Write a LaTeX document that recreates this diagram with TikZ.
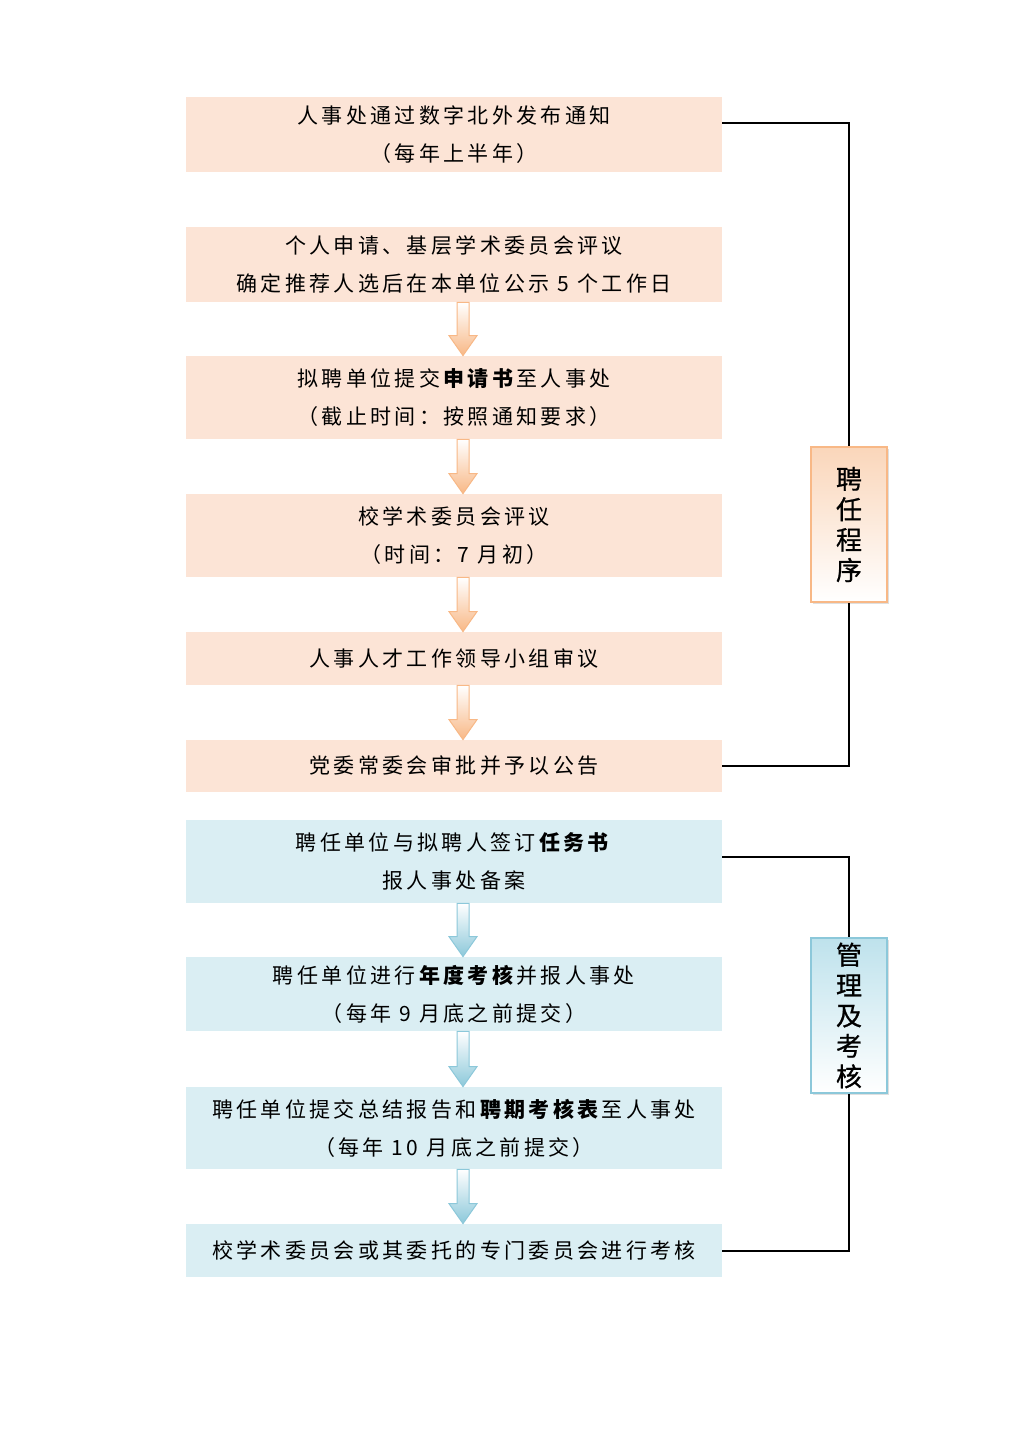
\documentclass[tikz,border=0pt]{standalone}
\usepackage{fontspec}
\setmainfont{Noto Sans CJK SC}
\newfontfamily\boxfont[LetterSpace=16]{Noto Sans CJK SC}
\newfontfamily\labfont[FakeBold=0.8]{Noto Sans CJK SC}
\usetikzlibrary{calc,shadows}
\definecolor{peach}{RGB}{252,228,214}
\definecolor{lblue}{RGB}{218,238,243}
\definecolor{arrO}{RGB}{248,184,134}
\definecolor{arrB}{RGB}{140,200,218}
\definecolor{labO}{RGB}{250,214,186}
\definecolor{labB}{RGB}{190,226,236}
\tikzset{
  box/.style={minimum width=268pt, inner sep=0pt, align=center,
    font=\boxfont\fontsize{10.5}{19}\selectfont},
  obox/.style={box, fill=peach},
  bbox/.style={box, fill=lblue},
  lab/.style={minimum width=38pt, minimum height=77.5pt, inner sep=0pt, align=center,
    line width=0.8pt, font=\labfont\fontsize{13}{15.2}\selectfont,
    drop shadow={opacity=0.25, shadow xshift=1.2pt, shadow yshift=-1.2pt}},
  bracket/.style={draw=black, line width=1pt}
}
\newcommand\flowarrow[3]{%
  \shadedraw[top color=white, bottom color=#3, draw=#3, line width=0.5pt]
    let \p1=($(#1.south)+(4.5pt,0)$), \p2=($(#2.north)+(4.5pt,0)$) in
    (\x1-3pt,\y1) -- (\x1+3pt,\y1) -- (\x1+3pt,\y2+10pt) -- (\x1+7pt,\y2+10pt)
    -- (\x1,\y2) -- (\x1-7pt,\y2+10pt) -- (\x1-3pt,\y2+10pt) -- cycle;}
\begin{document}
\begin{tikzpicture}[x=0.5pt,y=-0.5pt]
\useasboundingbox (0,0) rectangle (1024,1448);
\fill[white] (0,0) rectangle (1024,1448);
% orange stage
\node[obox, minimum height=37.5pt] (b1) at (454,134.5) {人事处通过数字北外发布通知\\（每年上半年）};
\node[obox, minimum height=37.5pt] (b2) at (454,264.5) {个人申请、基层学术委员会评议\\确定推荐人选后在本单位公示 5 个工作日};
\node[obox, minimum height=41.5pt] (b3) at (454,397.5) {拟聘单位提交\textbf{申请书}至人事处\\（截止时间：按照通知要求）};
\node[obox, minimum height=41.5pt] (b4) at (454,535.5) {校学术委员会评议\\（时间：7 月初）};
\node[obox, minimum height=26.5pt] (b5) at (454,658.5) {人事人才工作领导小组审议};
\node[obox, minimum height=26pt] (b6) at (454,766) {党委常委会审批并予以公告};
% blue stage
\node[bbox, minimum height=41.5pt] (b7) at (454,861.5) {聘任单位与拟聘人签订\textbf{任务书}\\报人事处备案};
\node[bbox, minimum height=37pt] (b8) at (454,994) {聘任单位进行\textbf{年度考核}并报人事处\\（每年 9 月底之前提交）};
\node[bbox, minimum height=41pt] (b9) at (454,1128) {聘任单位提交总结报告和\textbf{聘期考核表}至人事处\\（每年 10 月底之前提交）};
\node[bbox, minimum height=26.5pt] (b10) at (454,1250.5) {校学术委员会或其委托的专门委员会进行考核};
% arrows
\flowarrow{b2}{b3}{arrO}
\flowarrow{b3}{b4}{arrO}
\flowarrow{b4}{b5}{arrO}
\flowarrow{b5}{b6}{arrO}
\flowarrow{b7}{b8}{arrB}
\flowarrow{b8}{b9}{arrB}
\flowarrow{b9}{b10}{arrB}
% side labels
\node[lab, draw=arrO, top color=labO, bottom color=white] (L1) at (849,524.5) {聘\\任\\程\\序};
\node[lab, draw=arrB, top color=labB, bottom color=white] (L2) at (849,1015.5) {管\\理\\及\\考\\核};
% brackets
\draw[bracket] ($(b1.east)+(0,5.75pt)$) -| (L1.north);
\draw[bracket] (L1.south) |- (b6.east);
\draw[bracket] ($(b7.east)+(0,2.25pt)$) -| (L2.north);
\draw[bracket] (L2.south) |- (b10.east);
\end{tikzpicture}
\end{document}
